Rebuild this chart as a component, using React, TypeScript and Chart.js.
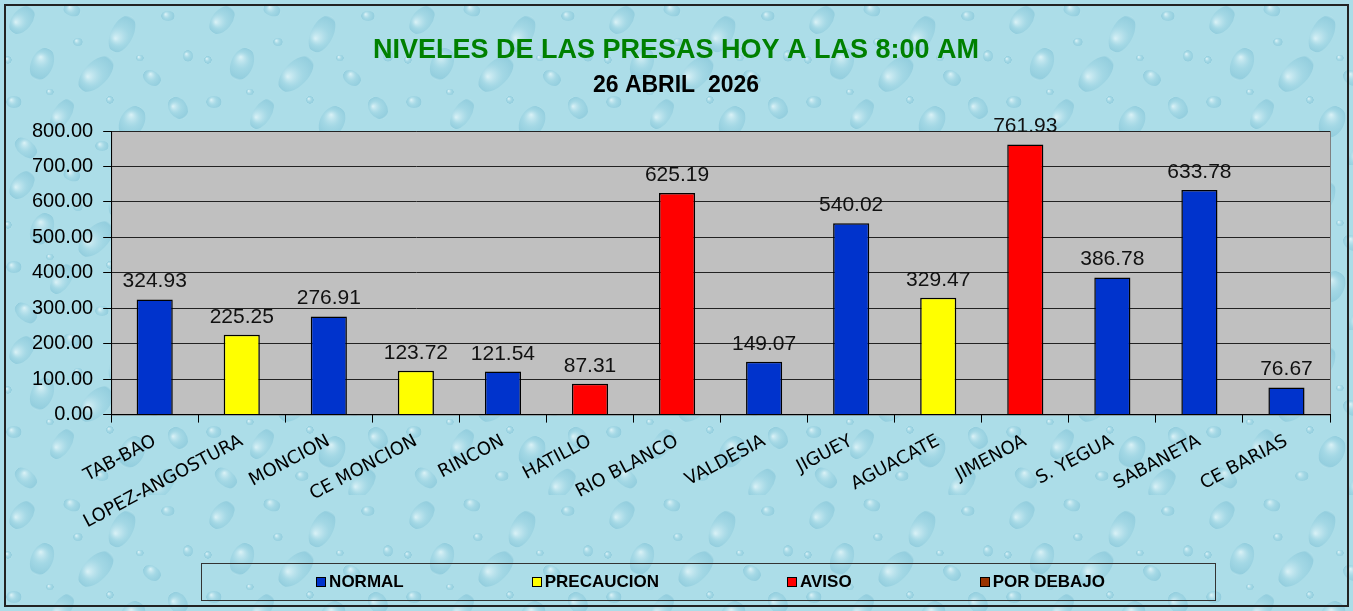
import React, { useEffect, useRef } from 'react';
import { Chart, registerables } from 'chart.js';

Chart.register(...registerables);

// ---- data ----
const TITLE = 'NIVELES DE LAS PRESAS HOY A LAS 8:00 AM';
const SUBTITLE = '26 ABRIL  2026';
const CATEGORIES = [
  'TAB-BAO', 'LOPEZ-ANGOSTURA', 'MONCION', 'CE MONCION', 'RINCON', 'HATILLO', 'RIO BLANCO',
  'VALDESIA', 'JIGUEY', 'AGUACATE', 'JIMENOA', 'S. YEGUA', 'SABANETA', 'CE BARIAS',
];
const LEVELS = [324.93, 225.25, 276.91, 123.72, 121.54, 87.31, 625.19, 149.07, 540.02, 329.47, 761.93, 386.78, 633.78, 76.67];
const STATUS = [
  'NORMAL', 'PRECAUCION', 'NORMAL', 'PRECAUCION', 'NORMAL', 'AVISO', 'AVISO',
  'NORMAL', 'NORMAL', 'PRECAUCION', 'AVISO', 'NORMAL', 'NORMAL', 'NORMAL',
];
const LEGEND_LABELS = ['NORMAL', 'PRECAUCION', 'AVISO', 'POR DEBAJO'];
const Y_MIN = 0;
const Y_MAX = 800;
const Y_STEP = 100;

// ---- styles ----
const STATUS_COLORS: Record<string, string> = {
  NORMAL: '#0033CC',
  PRECAUCION: '#FFFF00',
  AVISO: '#FF0000',
  'POR DEBAJO': '#993300',
};
const ARIAL = '"Liberation Sans", Arial, sans-serif';

// decorative water-drop texture tile (x, y, rx, ry, angle)
const DROPS: number[][] = [
  [22, 20, 16, 10, -0.9], [72, 10, 9, 6, 0.3], [122, 34, 20, 11, -1.1], [168, 16, 7, 5, 0],
  [42, 64, 11, 17, 0.4], [96, 74, 22, 12, -0.8], [152, 78, 10, 7, 0.6], [14, 102, 8, 6, 0],
  [62, 114, 17, 9, -1.0], [132, 122, 12, 17, 0.5], [178, 108, 9, 12, -0.6], [102, 146, 7, 5, 0],
  [26, 148, 13, 8, 0.7], [162, 154, 18, 10, -0.9], [78, 42, 5, 4, 0], [188, 56, 5, 6, 0],
  [50, 92, 4, 3, 0], [110, 100, 4, 4, 0], [140, 58, 4, 3, 0], [8, 60, 4, 4, 0],
];

function makeTexture(ctx: CanvasRenderingContext2D) {
  const tile = document.createElement('canvas');
  tile.width = 200;
  tile.height = 165;
  const t = tile.getContext('2d') as CanvasRenderingContext2D;
  t.fillStyle = '#acdde8';
  t.fillRect(0, 0, tile.width, tile.height);
  DROPS.forEach(([x, y, rx, ry, a]) => {
    t.save();
    t.translate(x, y);
    t.rotate(a);
    const r = Math.max(rx, ry);
    const g = t.createRadialGradient(-rx * 0.35, -ry * 0.35, 0.5, 0, 0, r);
    g.addColorStop(0, 'rgba(232,248,251,0.7)');
    g.addColorStop(0.5, 'rgba(150,208,224,0.45)');
    g.addColorStop(0.9, 'rgba(118,188,210,0.45)');
    g.addColorStop(1, 'rgba(196,234,241,0.4)');
    t.fillStyle = g;
    t.beginPath();
    t.ellipse(0, 0, rx, ry, 0, 0, Math.PI * 2);
    t.fill();
    t.restore();
  });
  return ctx.createPattern(tile, 'repeat');
}

const backgroundPlugin = {
  id: 'bgPlugin',
  beforeDraw(chart: any) {
    const { ctx, width, height, chartArea } = chart;
    ctx.save();
    if (!chart.$texture) chart.$texture = makeTexture(ctx);
    ctx.fillStyle = chart.$texture || '#acdde8';
    ctx.fillRect(0, 0, width, height);
    ctx.fillStyle = '#C0C0C0';
    ctx.fillRect(chartArea.left, chartArea.top, chartArea.right - chartArea.left, chartArea.bottom - chartArea.top);
    ctx.strokeStyle = '#808080';
    ctx.lineWidth = 1;
    ctx.strokeRect(chartArea.left + 0.5, chartArea.top + 0.5, chartArea.right - chartArea.left, chartArea.bottom - chartArea.top);
    ctx.restore();
  },
  afterDraw(chart: any) {
    const { ctx, width, height } = chart;
    ctx.save();
    ctx.strokeStyle = '#222';
    ctx.lineWidth = 2;
    ctx.strokeRect(5, 5, width - 10, height - 10);
    ctx.restore();
  },
};

const valueLabelPlugin = {
  id: 'valueLabels',
  afterDatasetsDraw(chart: any) {
    const { ctx } = chart;
    const meta = chart.getDatasetMeta(0);
    ctx.save();
    ctx.font = `21px ${ARIAL}`;
    ctx.fillStyle = '#111';
    ctx.textAlign = 'center';
    ctx.textBaseline = 'alphabetic';
    meta.data.forEach((bar: any, i: number) => {
      const v = chart.data.datasets[0].data[i];
      ctx.fillText(Number(v).toFixed(2), bar.x, bar.y - 12);
    });
    ctx.restore();
  },
};

const boxLegendPlugin = {
  id: 'boxLegend',
  afterDraw(chart: any) {
    const { ctx, height, chartArea } = chart;
    ctx.save();
    ctx.font = `bold 17px ${ARIAL}`;
    const box = 10;
    const textGap = 3;
    const itemGap = 128;
    const widths = LEGEND_LABELS.map((t) => box + textGap + ctx.measureText(t).width);
    const total = widths.reduce((a, b) => a + b, 0) + itemGap * (widths.length - 1);
    const cx = (chartArea.left + chartArea.right) / 2 - 10;
    const start = cx - total / 2;
    const top = height - 48;
    const bottom = height - 11;
    const cy = (top + bottom) / 2;
    ctx.strokeStyle = '#333';
    ctx.lineWidth = 1;
    ctx.strokeRect(Math.round(start - 115) + 0.5, top + 0.5, Math.round(total + 225), bottom - top);
    let x = start;
    LEGEND_LABELS.forEach((t, i) => {
      ctx.fillStyle = STATUS_COLORS[t];
      ctx.fillRect(Math.round(x) + 0.5, Math.round(cy - box / 2) + 0.5, box - 1, box - 1);
      ctx.strokeStyle = '#000';
      ctx.strokeRect(Math.round(x) + 0.5, Math.round(cy - box / 2) + 0.5, box - 1, box - 1);
      ctx.fillStyle = '#000';
      ctx.textAlign = 'left';
      ctx.textBaseline = 'middle';
      ctx.fillText(t, x + box + textGap, cy + 1);
      x += widths[i] + itemGap;
    });
    ctx.restore();
  },
};

export default function App() {
  const canvasRef = useRef<HTMLCanvasElement | null>(null);

  useEffect(() => {
    document.body.style.margin = '0';
    const canvas = canvasRef.current;
    if (!canvas) return;
    const chart = new Chart(canvas, {
      type: 'bar',
      data: {
        labels: CATEGORIES,
        datasets: [
          {
            label: 'Nivel',
            data: LEVELS,
            backgroundColor: STATUS.map((s) => STATUS_COLORS[s]),
            borderColor: '#000',
            borderWidth: 1.5,
            barPercentage: 0.415,
            categoryPercentage: 1,
          },
        ],
      },
      options: {
        responsive: false,
        animation: false,
        devicePixelRatio: 1,
        layout: { padding: { left: 22, right: 23, top: 0, bottom: 70 } },
        plugins: {
          legend: { display: false },
          tooltip: { enabled: false },
          title: {
            display: true,
            text: TITLE,
            color: '#008000',
            font: { family: ARIAL, size: 27, weight: 'bold' },
            padding: { top: 34, bottom: 0 },
          },
          subtitle: {
            display: true,
            text: SUBTITLE,
            color: '#000',
            font: { family: ARIAL, size: 23, weight: 'bold' },
            padding: { top: 5, bottom: 32 },
          },
        },
        scales: {
          x: {
            offset: true,
            grid: {
              display: true,
              drawOnChartArea: false,
              drawTicks: true,
              tickLength: 8,
              color: '#000',
              offset: true,
            },
            border: { display: true, color: '#000', width: 1 },
            ticks: {
              autoSkip: false,
              minRotation: 28,
              maxRotation: 28,
              padding: 8,
              color: '#000',
              font: { family: '"DejaVu Sans", Verdana, sans-serif', size: 18 },
            },
          },
          y: {
            min: Y_MIN,
            max: Y_MAX,
            grid: { color: '#222', lineWidth: 1, drawTicks: true, tickLength: 8, tickColor: '#000' },
            border: { display: true, color: '#000', width: 1 },
            ticks: {
              stepSize: Y_STEP,
              padding: 10,
              color: '#000',
              font: { family: ARIAL, size: 20 },
              callback: (v: any) => Number(v).toFixed(2),
            },
          },
        },
      },
      plugins: [backgroundPlugin, valueLabelPlugin, boxLegendPlugin],
    });
    return () => chart.destroy();
  }, []);

  return (
    <div style={{ width: 1353, height: 611 }}>
      <canvas ref={canvasRef} width={1353} height={611} style={{ display: 'block' }} />
    </div>
  );
}
